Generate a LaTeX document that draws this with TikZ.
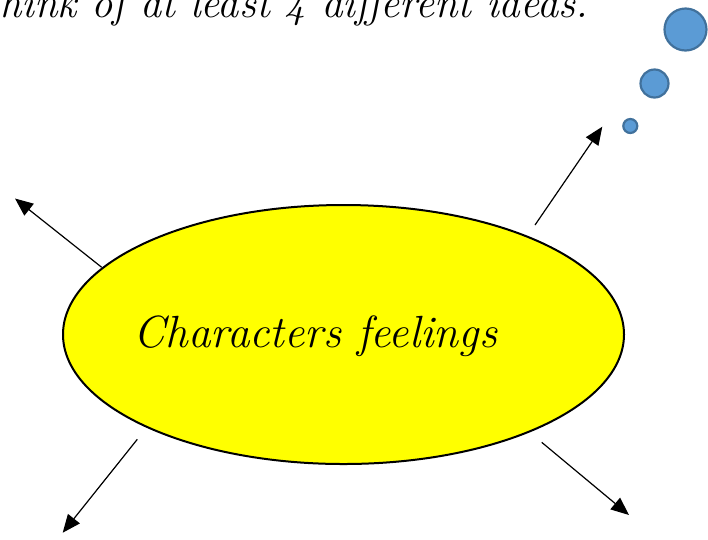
\documentclass[tikz,border=0pt]{standalone}
\usetikzlibrary{shapes.geometric,arrows.meta}
\definecolor{bubblefill}{HTML}{5B9BD5}
\definecolor{bubbleedge}{HTML}{41719C}
\definecolor{ovalfill}{HTML}{FFFF00}
\begin{document}
\begin{tikzpicture}[x=1pt,y=-1pt,
  oval/.style={ellipse,draw=black,line width=2pt,fill=ovalfill,inner sep=0pt},
  bubble/.style={circle,draw=bubbleedge,line width=2.2pt,fill=bubblefill,inner sep=0pt},
  ray/.style={line width=1.2pt,-{Triangle[length=18pt,width=15pt]}},
  lbl/.style={inner sep=0pt,font=\itshape}]
\useasboundingbox (0,0) rectangle (708,539);
% title (cut at top)
\node[lbl,anchor=base west] (title) at (0,17) {\resizebox{588pt}{!}{\fontsize{30}{36}\selectfont hink of at least 4 different ideas.}};
% thought bubbles
\node[bubble,minimum size=42pt] (b1) at (685.5,29.5) {};
\node[bubble,minimum size=28pt] (b2) at (654.5,83.5) {};
\node[bubble,minimum size=14pt] (b3) at (630.3,126) {};
% main oval
\node[oval,minimum width=561pt,minimum height=259pt] (main) at (343.5,334.5) {};
\node[lbl,anchor=base] (mtext) at (315.5,347) {\resizebox{363pt}{!}{\fontsize{40}{48}\selectfont Characters feelings}};
% arrows
\coordinate (s1) at (101.7,267.3); \coordinate (e1) at (15,198.5);
\coordinate (s2) at (137.3,439.3); \coordinate (e2) at (62.7,532.7);
\coordinate (s3) at (541.7,442.3); \coordinate (e3) at (629,515);
\coordinate (s4) at (535,225);     \coordinate (e4) at (602.3,126.7);
\draw[ray] (s1) -- (e1);
\draw[ray] (s2) -- (e2);
\draw[ray] (s3) -- (e3);
\draw[ray] (s4) -- (e4);
\end{tikzpicture}
\end{document}
